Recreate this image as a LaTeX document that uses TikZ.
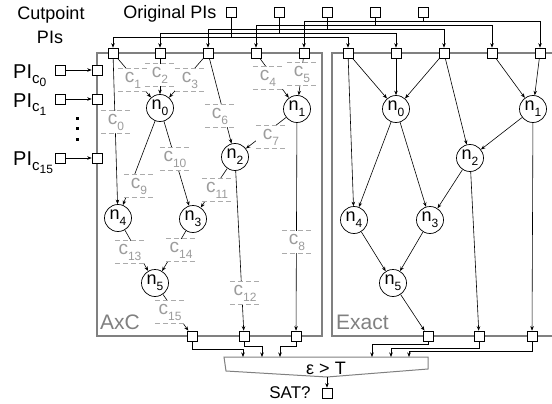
\documentclass[tikz,border=0pt]{standalone}
\usepackage{fontspec}
\setmainfont{Liberation Sans}
\usetikzlibrary{arrows.meta,calc}
\definecolor{boxgray}{HTML}{808080}
\definecolor{cutgray}{HTML}{ABABAB}
\definecolor{cuttext}{HTML}{9C9C9C}
\newcommand{\fs}[1]{\fontsize{#1}{#1}\selectfont}
\newcommand{\sbs}[1]{\raisebox{-6pt}{\fs{12}#1}}
\newcommand{\picut}[1]{PI\raisebox{-5pt}{\fs{15}c\raisebox{-3pt}{\fs{12}#1}}}
\begin{document}
\begin{tikzpicture}[x=1pt,y=-1pt,
 every node/.style={font=\fs{18}},
 sq/.style={draw=black,fill=white,minimum size=10pt,inner sep=0pt,line width=0.6pt},
 nd/.style={circle,draw=black,fill=white,minimum size=27pt,inner sep=0pt,line width=0.7pt},
 cut/.style={fill=white,minimum width=30pt,minimum height=22pt,inner sep=0pt,text=cuttext,font=\fs{19}},
 cutline/.style={draw=cutgray,line width=1.1pt,dash pattern=on 5pt off 3pt},
 wire/.style={line width=0.6pt},
 arr/.style={wire,-{Stealth[length=4.5pt,width=3.5pt]}},
 frame/.style={draw=boxgray,line width=1.3pt}]

\useasboundingbox (0,0) rectangle (552,404);

% frames
\draw[frame] (97,53) rectangle (322,336);
\draw[frame] (556,53) -- (332,53) -- (332,336) -- (556,336);

% squares
\foreach \i/\x in {0/113,1/160,2/208,3/256,4/304} \node[sq] (a\i) at (\x,53) {};
\foreach \i/\x in {0/348,1/396,2/444,3/492,4/540} \node[sq] (e\i) at (\x,53) {};
\foreach \i/\x in {0/231,1/279,2/327,3/375,4/423} \node[sq] (pi\i) at (\x,12) {};
\foreach \i/\x in {1/192,2/244,3/296} \node[sq] (ao\i) at (\x,336) {};
\foreach \i/\x in {1/428,2/479,3/532} \node[sq] (eo\i) at (\x,336) {};
\foreach \i/\y in {0/70,1/99,2/158} {
  \node[sq] (l\i) at (97,\y) {};
  \node[sq] (p\i) at (60,\y) {};
  \draw[arr] (p\i) -- (l\i);
}
\node[sq] (sat) at (327,393) {};

% texts
\node (cp1) at (51,15) {Cutpoint};
\node (cp2) at (50,37) {PIs};
\node (opi) at (170,14) {Original PIs};
\node[font=\fs{20},anchor=base west,inner sep=0pt] (lp0) at (13,79) {\picut{0}};
\node[font=\fs{20},anchor=base west,inner sep=0pt] (lp1) at (13,107) {\picut{1}};
\node[font=\fs{20},anchor=base west,inner sep=0pt] (lp2) at (13,165) {\picut{15}};
\foreach \yy in {118,128,139} \fill (75.5,\yy-1.5) rectangle ++(3,3);
\node[font=\fs{21},text=boxgray,anchor=base west,inner sep=0pt] (axc) at (100,329) {AxC};
\node[font=\fs{21},text=boxgray,anchor=base west,inner sep=0pt] (exact) at (336,329) {Exact};
\node[font=\fs{17}] (sattxt) at (290,393) {SAT?};

% PI wiring
\foreach \i/\d in {0/20,1/16,2/12,3/8,4/4} {
  \draw[wire] (pi\i.south) -- ++(0,\d) coordinate (b\i);
  \draw[arr] (b\i) -| (a\i.north);
  \draw[arr] (b\i) -| (e\i.north);
}

% graph nodes AxC
\node[nd] (n0) at (160,108) {n\sbs{0}};
\node[nd] (n1) at (297,109) {n\sbs{1}};
\node[nd] (n2) at (235,157) {n\sbs{2}};
\node[nd] (n4) at (118,218) {n\sbs{4}};
\node[nd] (n3) at (193,219) {n\sbs{3}};
\node[nd] (n5) at (155,283) {n\sbs{5}};
% graph nodes Exact
\node[nd] (m0) at (396,109) {n\sbs{0}};
\node[nd] (m1) at (533,109) {n\sbs{1}};
\node[nd] (m2) at (470,158) {n\sbs{2}};
\node[nd] (m4) at (354,220) {n\sbs{4}};
\node[nd] (m3) at (430,220) {n\sbs{3}};
\node[nd] (m5) at (393,283) {n\sbs{5}};

% Exact edges
\foreach \s/\t in {e0/m0,e1/m0,e2/m0,e0/m4,e2/m2,e3/m1,e4/m1,m1/m2,m1/eo3,m0/m4,m0/m3,m2/m3,m2/eo2,m4/m5,m3/m5,m5/eo1}
  \draw[arr] (\s) -- (\t);

% AxC edges
\foreach \s/\t in {a0/n4,a0/n0,a1/n0,a2/n0,a3/n1,a4/n1,a2/n2,n1/n2,n1/ao3,n0/n4,n0/n3,n2/n3,n2/ao2,n4/n5,n3/n5,n5/ao1}
  \draw[arr] (\s) -- (\t);

% cut labels
\node[cut] (c0) at (116,122) {c\sbs{0}};
\node[cut] (c1) at (133,80) {c\sbs{1}};
\node[cut] (c2) at (160,75) {c\sbs{2}};
\node[cut] (c3) at (190,80) {c\sbs{3}};
\node[cut] (c4) at (268,78) {c\sbs{4}};
\node[cut] (c5) at (302,74) {c\sbs{5}};
\node[cut] (c6) at (220,116) {c\sbs{6}};
\node[cut] (c7) at (271,137) {c\sbs{7}};
\node[cut] (c8) at (297,242) {c\sbs{8}};
\node[cut] (c9) at (139,186) {c\sbs{9}};
\node[cut] (c10) at (175,159) {c\sbs{10}};
\node[cut] (c11) at (217,190) {c\sbs{11}};
\node[cut] (c12) at (245,293) {c\sbs{12}};
\node[cut] (c13) at (130,252) {c\sbs{13}};
\node[cut] (c14) at (181,250) {c\sbs{14}};
\node[cut] (c15) at (170,312) {c\sbs{15}};
\foreach \c in {c0,c1,c2,c3,c4,c5,c6,c7,c8,c9,c10,c11,c12,c13,c14,c15} {
  \draw[cutline] (\c.north west) -- (\c.north east);
  \draw[cutline] (\c.south west) -- (\c.south east);
}

% comparator
\draw[draw=boxgray,line width=1pt] (224,357) -- (428,357) -- (428,369) -- (327,377) coordinate (tb) -- (226,371) -- cycle;
\node[font=\fs{18}] (eps) at (326,368) {ε > T};
\coordinate (t1) at (243,357);
\coordinate (t2) at (262,357);
\coordinate (t3) at (280,357);
\coordinate (t4) at (372,357);
\coordinate (t5) at (391,357);
\coordinate (t6) at (409,357);
\draw[arr] (ao1.south) -- ++(0,8) -| (t1);
\draw[arr] (ao2.south) -- ++(0,5) -| (t2);
\draw[arr] (ao3.south) -- ++(0,5) -| (t3);
\draw[arr] (eo1.south) -- ++(0,3) -| (t4);
\draw[arr] (eo2.south) -- ++(0,7) -| (t5);
\draw[arr] (eo3.south) -- ++(0,10) -| (t6);
\draw[arr] (tb) -- (sat.north);
\end{tikzpicture}
\end{document}
